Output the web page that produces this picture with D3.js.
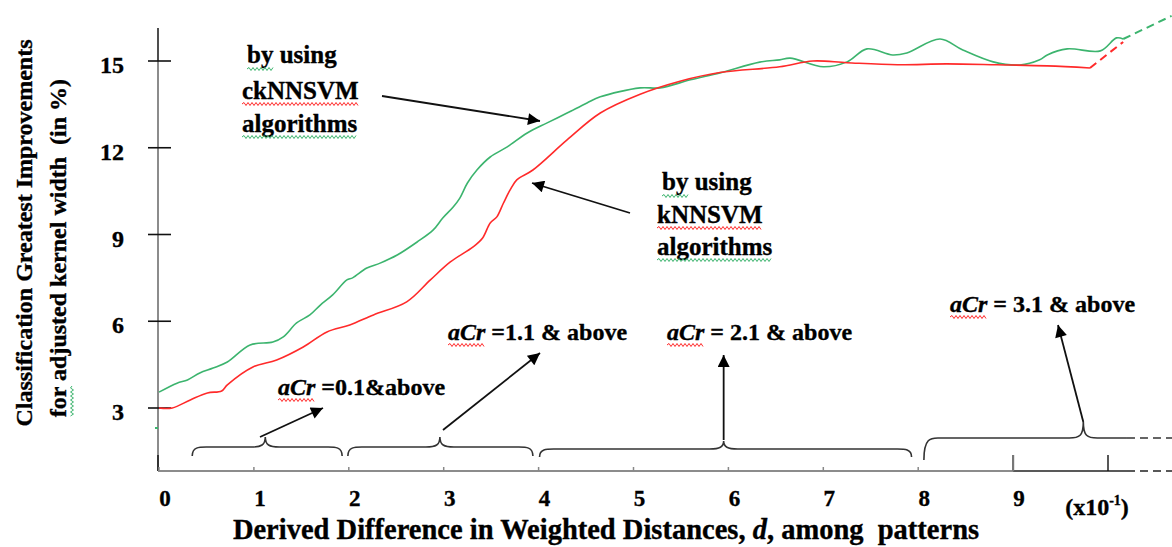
<!DOCTYPE html>
<html><head><meta charset="utf-8">
<script src="https://cdn.jsdelivr.net/npm/d3@7"></script>
<style>
body{margin:0;background:#fff}
svg{display:block}
text{font-family:"Liberation Serif","Times New Roman",serif;font-weight:bold;fill:#000;white-space:pre;stroke:#000;stroke-width:0.35px}
</style>
</head><body><svg id="c" width="1172" height="547"></svg>
<script>
// ---------------- data ----------------
const xTicks = [0,1,2,3,4,5,6,7,8,9,10];
const xTickLabels = ["0","1","2","3","4","5","6","7","8","9",""];
const yTicks = [3,6,9,12,15];
const yTickLabels = ["3","6","9","12","15"];

// kNNSVM (red)
const redD = [0,0.14,0.33,0.51,0.66,0.72,0.99,1.24,1.52,1.77,2.01,2.26,2.61,2.86,3.07,3.31,3.41,3.49,3.56,3.63,3.70,3.77,3.94,4.30,4.65,5.07,5.49,5.91,6.54,6.89,7.25,7.78,8.30,8.83,9.36,9.81];
const redV = [3.00,3.00,3.28,3.52,3.59,3.80,4.42,4.66,5.11,5.63,5.87,6.22,6.67,7.43,8.05,8.57,8.88,9.40,9.61,10.09,10.54,10.89,11.23,12.27,13.20,13.85,14.30,14.60,14.80,15.00,14.94,14.87,14.90,14.87,14.83,14.76];
const redDashD = [9.81,10.16];
const redDashV = [14.76,15.66];

// ckNNSVM (green)
const greenD = [0,0.19,0.30,0.43,0.57,0.72,0.96,1.20,1.31,1.45,1.59,1.70,1.83,1.98,2.04,2.19,2.33,2.51,2.72,2.89,2.99,3.10,3.17,3.25,3.35,3.49,3.67,3.88,4.09,4.30,4.51,4.65,5.07,5.28,5.60,5.91,6.33,6.54,6.65,7.00,7.25,7.46,7.73,7.88,8.23,8.47,8.79,9.07,9.28,9.36,9.57,9.92,10.09,10.16];
const greenV = [3.55,3.86,3.97,4.21,4.38,4.59,5.18,5.28,5.46,5.94,6.22,6.56,6.91,7.43,7.50,7.84,8.01,8.29,8.74,9.16,9.57,9.95,10.26,10.78,11.23,11.68,12.03,12.51,12.86,13.20,13.55,13.76,14.07,14.07,14.35,14.59,14.96,15.04,15.10,14.80,14.97,15.42,15.21,15.28,15.76,15.38,14.97,14.86,15.04,15.21,15.42,15.35,15.80,15.76];
const greenDashD = [10.16,10.67];
const greenDashV = [15.76,16.56];

// ---------------- drawing ----------------
const svg = d3.select("#c");
const x = d3.scaleLinear().domain([0,10]).range([159,1108]);
const y = d3.scaleLinear().domain([3,15]).range([408,61]);
const GREEN = "#3cb46e", RED = "#ff2a2a";

const defs = svg.append("defs");
defs.append("marker").attr("id","ah").attr("viewBox","0 0 10 10")
  .attr("refX",10).attr("refY",5).attr("markerWidth",15).attr("markerHeight",12)
  .attr("markerUnits","userSpaceOnUse").attr("orient","auto")
  .append("path").attr("d","M0,0L10,5L0,10Z").attr("fill","#000");

function squiggle(x1, x2, yy, color){
  let d = `M${x1},${yy}`; let up = true;
  for(let xx = x1+2; xx <= x2; xx += 2){ d += `L${xx},${yy + (up?-1.5:1.5)}`; up = !up; }
  svg.append("path").attr("d", d).attr("fill","none").attr("stroke",color).attr("stroke-width",1);
}
function squiggleV(xx, y1, y2, color){
  let d = `M${xx},${y1}`; let up = true;
  for(let yy = y1+2; yy <= y2; yy += 2){ d += `L${xx + (up?-1.5:1.5)},${yy}`; up = !up; }
  svg.append("path").attr("d", d).attr("fill","none").attr("stroke",color).attr("stroke-width",1);
}

// y axis
const axisX = x(0) - 1;
svg.append("line").attr("x1",axisX).attr("x2",axisX).attr("y1",y(15)).attr("y2",471)
  .attr("stroke","#8c8c8c").attr("stroke-width",2);
svg.append("line").attr("x1",axisX).attr("x2",axisX).attr("y1",28).attr("y2",y(15))
  .attr("stroke","#222").attr("stroke-width",1.6);
svg.append("line").attr("x1",axisX).attr("x2",axisX).attr("y1",455).attr("y2",471)
  .attr("stroke","#333").attr("stroke-width",2);
yTicks.forEach((t,i)=>{
  svg.append("line").attr("x1",axisX-10).attr("x2",axisX+13).attr("y1",y(t)).attr("y2",y(t))
    .attr("stroke","#111").attr("stroke-width",1.6);
  svg.append("text").attr("x",124).attr("y",y(t)+12).attr("text-anchor","end")
    .attr("font-size",24).text(yTickLabels[i]);
});

// x axis
const axisY = 471;
svg.append("line").attr("x1",axisX).attr("x2",x(9)).attr("y1",axisY).attr("y2",axisY)
  .attr("stroke","#8c8c8c").attr("stroke-width",2);
svg.append("line").attr("x1",x(9)).attr("x2",1127).attr("y1",axisY).attr("y2",axisY)
  .attr("stroke","#222").attr("stroke-width",1.6);
svg.append("line").attr("x1",1127).attr("x2",1172).attr("y1",axisY).attr("y2",axisY)
  .attr("stroke","#222").attr("stroke-width",1.6).attr("stroke-dasharray","8,5");
xTicks.forEach((t,i)=>{
  const big = t >= 9;
  svg.append("line").attr("x1",x(t)).attr("x2",x(t)).attr("y1",axisY).attr("y2",axisY-(big?16:4))
    .attr("stroke", t==9?"#777":(big?"#111":"#888")).attr("stroke-width",big?(t==9?2.2:1.4):1.5);
  if(xTickLabels[i]) svg.append("text").attr("x",x(t)+6).attr("y",506).attr("text-anchor","middle")
    .attr("font-size",23).text(xTickLabels[i]);
});
const xl = svg.append("text").attr("x",1097).attr("y",515).attr("text-anchor","middle").attr("font-size",24);
xl.append("tspan").text("(x10");
xl.append("tspan").attr("dy",-10).attr("font-size",14).text("-1");
xl.append("tspan").attr("dy",10).text(")");

// x title
const xt = svg.append("text").attr("x",606).attr("y",539).attr("text-anchor","middle").attr("font-size",28.5);
xt.append("tspan").text("Derived Difference in Weighted Distances, ");
xt.append("tspan").attr("font-style","italic").text("d");
xt.append("tspan").text(", among  patterns");

// y title
svg.append("text").attr("transform","translate(32,233) rotate(-90)").attr("text-anchor","middle")
  .attr("font-size",24).text("Classification Greatest Improvements");
svg.append("text").attr("transform","translate(66,248) rotate(-90)").attr("text-anchor","middle")
  .attr("font-size",24).text("for adjusted kernel width  (in %)");
squiggleV(72, 386, 416, GREEN);

// series
const line = d3.line().x(d=>x(d[0])).y(d=>y(d[1])).curve(d3.curveCatmullRom);
svg.append("path").datum(greenD.map((d,i)=>[d,greenV[i]])).attr("d",line)
  .attr("fill","none").attr("stroke",GREEN).attr("stroke-width",1.6);
svg.append("path").datum(redD.map((d,i)=>[d,redV[i]])).attr("d",line)
  .attr("fill","none").attr("stroke",RED).attr("stroke-width",1.6);
svg.append("path").datum(greenDashD.map((d,i)=>[d,greenDashV[i]])).attr("d",line)
  .attr("fill","none").attr("stroke",GREEN).attr("stroke-width",2).attr("stroke-dasharray","8,5");
svg.append("path").datum(redDashD.map((d,i)=>[d,redDashV[i]])).attr("d",line)
  .attr("fill","none").attr("stroke",RED).attr("stroke-width",2).attr("stroke-dasharray","8,5");
// stray green mark near axis
svg.append("line").attr("x1",axisX-3).attr("x2",axisX).attr("y1",428).attr("y2",428)
  .attr("stroke",GREEN).attr("stroke-width",2);

// annotations: algorithm labels
function labelBlock(lines, xs, ys, wavy){
  lines.forEach((s,i)=>{
    const t = svg.append("text").attr("x",xs[i]).attr("y",ys[i]).attr("font-size",25).text(s);
    const w = t.node().getComputedTextLength();
    if(wavy[i]==="by"){
      const tmp = svg.append("text").attr("font-size",25).text("by");
      const wb = tmp.node().getComputedTextLength(); tmp.remove();
      squiggle(xs[i], xs[i]+wb, ys[i]+6, GREEN);
    } else if(wavy[i]) squiggle(xs[i], xs[i]+w, ys[i]+5, wavy[i]);
  });
}
labelBlock(["by using","ckNNSVM","algorithms"],[247,242,242],[63,99,132],["by",RED,GREEN]);
labelBlock(["by using","kNNSVM","algorithms"],[662,657,657],[190,223,255],["by",RED,GREEN]);

function arrow(x1,y1,x2,y2){
  svg.append("line").attr("x1",x1).attr("y1",y1).attr("x2",x2).attr("y2",y2)
    .attr("stroke","#111").attr("stroke-width",1.8).attr("marker-end","url(#ah)");
}
arrow(382,96,540,121);
arrow(630,213,532,183);

// aCr labels
function acr(xs, ys, rest){
  const a = svg.append("text").attr("x",xs).attr("y",ys).attr("font-size",24)
    .attr("font-style","italic").text("aCr");
  const w = a.node().getComputedTextLength();
  svg.append("text").attr("x",xs+w).attr("y",ys).attr("font-size",24).text(rest);
  squiggle(xs, xs+w, ys+5, RED);
}
acr(278,395," =0.1&above");
acr(448,340," =1.1 & above");
acr(667,340," = 2.1 & above");
acr(950,312," = 3.1 & above");

// braces
function brace(d1, d2, dp, yLine, yEnd, yPeak, closeRight){
  const x1 = x(d1), x2 = x(d2), xp = x(dp), r = 14;
  let p = `M${x1},${yEnd} C${x1},${yLine} ${x1+r/2},${yLine} ${x1+r},${yLine}`;
  p += ` L${xp-r},${yLine} C${xp-4},${yLine} ${xp},${yLine-2} ${xp},${yPeak}`;
  p += ` C${xp},${yLine-2} ${xp+4},${yLine} ${xp+r},${yLine}`;
  if(closeRight) p += ` L${x2-r},${yLine} C${x2-r/2},${yLine} ${x2},${yLine} ${x2},${yEnd}`;
  else p += ` L${x2},${yLine}`;
  svg.append("path").attr("d",p).attr("fill","none").attr("stroke","#333").attr("stroke-width",1.6);
}
brace(0.35,1.93,1.12,447,456,437,true);
brace(1.99,3.94,2.96,447,456,437,true);
brace(4.01,7.93,5.95,449,457,441,true);
brace(8.06,10.2,9.74,438,460,422,false);
svg.append("line").attr("x1",x(10.2)).attr("x2",1172).attr("y1",438).attr("y2",438)
  .attr("stroke","#333").attr("stroke-width",1.6).attr("stroke-dasharray","8,5");

arrow(260,437,323,408);
arrow(443,430,540,353);
arrow(x(5.95),440,x(5.95),355);
arrow(x(9.74),422,1058,325);
</script>
</body></html>
